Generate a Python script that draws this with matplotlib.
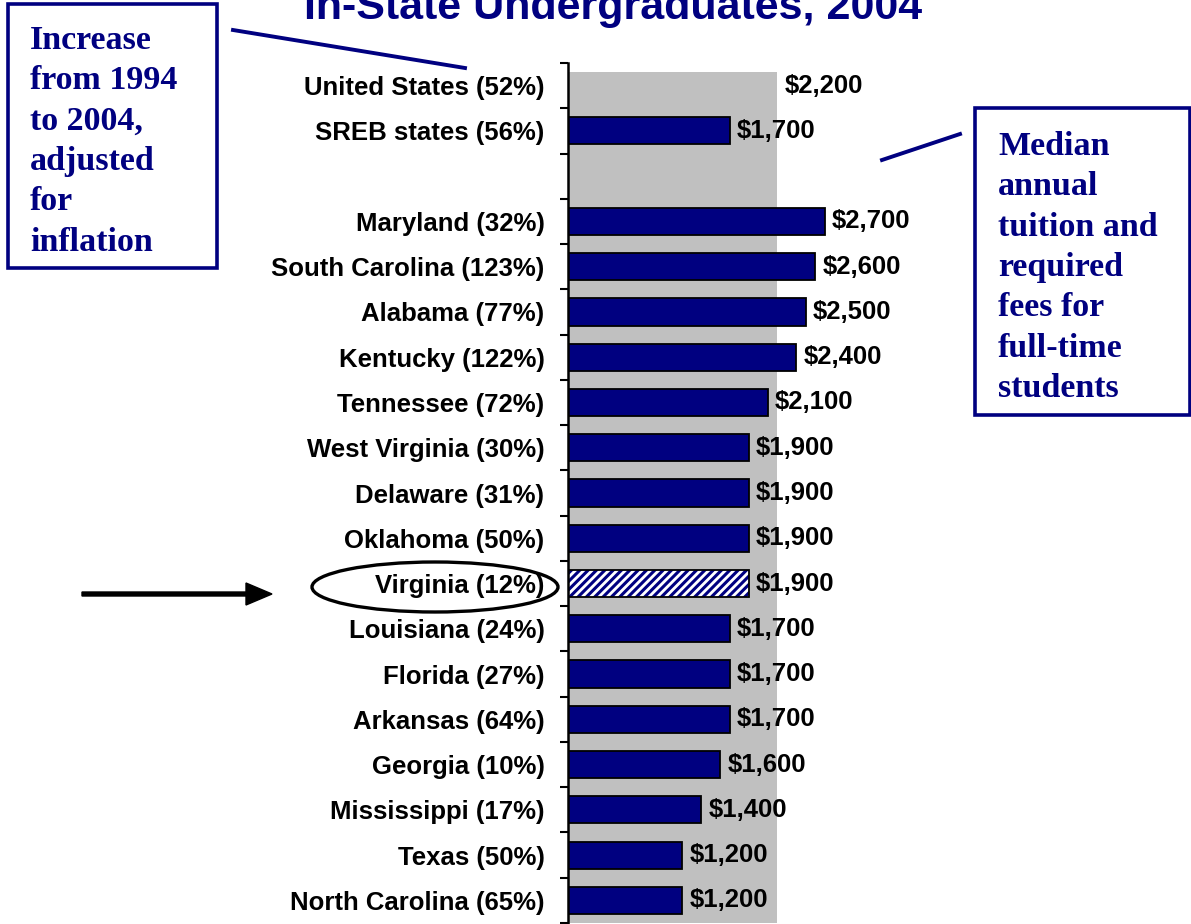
import matplotlib
matplotlib.use("Agg")
import matplotlib.pyplot as plt
from matplotlib import font_manager
from matplotlib.patches import Rectangle, Ellipse, FancyArrow
from matplotlib.lines import Line2D

# ---------------- data ----------------
us_label = "United States (52%)"
us_value = 2200
sreb_label = "SREB states (56%)"
sreb_value = 1700
state_labels = ["Maryland (32%)", "South Carolina (123%)", "Alabama (77%)",
                "Kentucky (122%)", "Tennessee (72%)", "West Virginia (30%)",
                "Delaware (31%)", "Oklahoma (50%)", "Virginia (12%)",
                "Louisiana (24%)", "Florida (27%)", "Arkansas (64%)",
                "Georgia (10%)", "Mississippi (17%)", "Texas (50%)",
                "North Carolina (65%)"]
state_values = [2700, 2600, 2500, 2400, 2100, 1900, 1900, 1900, 1900,
                1700, 1700, 1700, 1600, 1400, 1200, 1200]
highlight = "Virginia (12%)"
title_text = "In-State Undergraduates, 2004"
left_note = "Increase\nfrom 1994\nto 2004,\nadjusted\nfor\ninflation"
right_note = "Median\nannual\ntuition and\nrequired\nfees for\nfull-time\nstudents"

# ---------------- fonts ----------------
def has_font(name):
    try:
        font_manager.findfont(font_manager.FontProperties(family=name), fallback_to_default=False)
        return True
    except Exception:
        return False

if has_font("Liberation Sans Narrow"):
    lab_family, lab_size = "Liberation Sans Narrow", 22
else:
    lab_family, lab_size = "Liberation Sans", 18.5

NAVY = "#000080"
W, H = 1191, 924
fig = plt.figure(figsize=(W / 100, H / 100), dpi=100)

# axes: y from px 63 to 923, x starts at px 568, 95 px per 1000
xmax = 3500
ax_left = 568 / W
ax_w = xmax * 0.095 / W
ax = fig.add_axes([ax_left, 1 - 923 / H, ax_w, (923 - 63) / H])

labels = [us_label, sreb_label, ""] + state_labels
n = len(labels)
pos = list(range(n))
bar_h = 0.6

# gray band: US value extends from the top of its bar down to the bottom
band_top = pos[0] - bar_h / 2
band_bottom = n - 0.5
ax.barh((band_top + band_bottom) / 2, us_value, height=band_bottom - band_top,
        color="#c0c0c0", linewidth=0, zorder=1)

plt.rcParams["hatch.linewidth"] = 2.2

bar_rows = [(pos[1], sreb_label, sreb_value)] + \
    [(pos[3 + i], l, v) for i, (l, v) in enumerate(zip(state_labels, state_values))]
for y, lab, val in bar_rows:
    if lab == highlight:
        ax.barh(y, val, height=bar_h, color="white", edgecolor=NAVY,
                hatch="////", linewidth=0, zorder=2)
        ax.barh(y, val, height=bar_h, color="none", edgecolor="black",
                linewidth=1.3, zorder=3)
    else:
        ax.barh(y, val, height=bar_h, color=NAVY, edgecolor="black",
                linewidth=1.3, zorder=2)

# value labels
for y, lab, val in [(pos[0], us_label, us_value)] + bar_rows:
    ax.text(val + 80, y, f"${val:,}", ha="left", va="center",
            fontsize=lab_size, fontweight="bold", family=lab_family,
            color="black", zorder=4)

ax.set_ylim(n - 0.5, -0.5)
ax.set_xlim(0, xmax)
ax.set_yticks(pos)
ax.set_yticklabels(labels, fontsize=lab_size, fontweight="bold", family=lab_family)
ax.set_yticks([p - 0.5 for p in pos] + [n - 0.5], minor=True)
ax.tick_params(axis="y", which="major", length=0, pad=17)
ax.tick_params(axis="y", which="minor", length=6, width=1.5, direction="out", color="black")
ax.set_xticks([])
for s in ["top", "right", "bottom"]:
    ax.spines[s].set_visible(False)
ax.spines["left"].set_linewidth(1.8)
ax.spines["left"].set_zorder(5)
ax.patch.set_alpha(0)

# title (top line cut off in reference)
fig.text(613 / W, 1 - 19 / H, title_text, ha="center", va="baseline",
         fontsize=31, fontweight="bold", family="Liberation Sans", color=NAVY)

# note boxes
def px_rect(x0, y0, x1, y1):
    return Rectangle((x0 / W, 1 - y1 / H), (x1 - x0) / W, (y1 - y0) / H,
                     transform=fig.transFigure, fill=False, edgecolor=NAVY,
                     linewidth=2.6, zorder=10)

fig.patches.append(px_rect(8, 4, 217, 268))
fig.patches.append(px_rect(975, 108, 1190, 415))
fig.text(30 / W, 1 - 25 / H, left_note, ha="left", va="top", fontsize=24.5,
         fontweight="bold", family="Liberation Serif", color=NAVY, linespacing=1.39)
fig.text(998 / W, 1 - 131 / H, right_note, ha="left", va="top", fontsize=24.5,
         fontweight="bold", family="Liberation Serif", color=NAVY, linespacing=1.39)

# connector lines
fig.lines.append(Line2D([233 / W, 465 / W], [1 - 30 / H, 1 - 68 / H],
                        transform=fig.transFigure, color=NAVY, linewidth=2.8))
fig.lines.append(Line2D([882 / W, 960 / W], [1 - 160 / H, 1 - 134 / H],
                        transform=fig.transFigure, color=NAVY, linewidth=2.8))

# arrow and ellipse around Virginia
ax_arrow = fig.add_axes([0, 0, 1, 1], zorder=20)
ax_arrow.set_xlim(0, W)
ax_arrow.set_ylim(H, 0)
ax_arrow.axis("off")
ax_arrow.add_patch(FancyArrow(82, 594, 190, 0, width=4, head_width=22,
                              head_length=26, length_includes_head=True,
                              color="black"))
ax_arrow.add_patch(Ellipse((435, 587), 246, 50, fill=False, edgecolor="black",
                           linewidth=2.4))

fig.savefig("out.png", dpi=100)
